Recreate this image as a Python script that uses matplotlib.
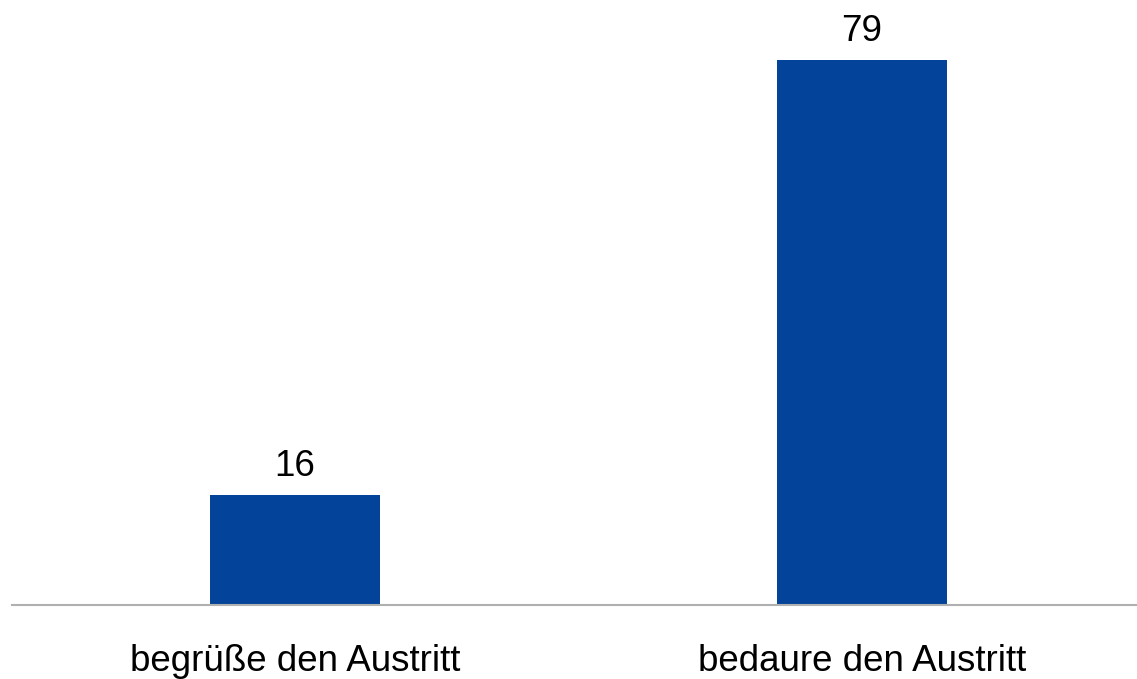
import matplotlib as mpl
mpl.use("Agg")
import matplotlib.pyplot as plt

categories = ['begrüße den Austritt', 'bedaure den Austritt']
values = [16, 79]

plt.rcParams['font.family'] = ['Liberation Sans', 'DejaVu Sans']

fig = plt.figure(figsize=(11.37, 6.79), dpi=100)
ax = fig.add_axes([12/1137, (679-605)/679, 1125/1137, 605/679])

pos = range(len(values))
bars = ax.bar(pos, values, width=0.3, color='#03449A')
for p, v in zip(pos, values):
    ax.text(p, v + 1.6, str(v), ha='center', va='bottom', fontsize=26.5)

ax.set_xlim(-0.499, 1.485)
ax.set_ylim(0, 87.7)
ax.set_xticks(list(pos))
ax.set_xticklabels(categories, fontsize=26.5)
ax.tick_params(axis='x', length=0, pad=28)
ax.set_yticks([])
for s in ['top', 'right', 'left']:
    ax.spines[s].set_visible(False)
ax.spines['bottom'].set_color('#B0B0B0')
ax.spines['bottom'].set_linewidth(1.5)

plt.savefig('out.png')
